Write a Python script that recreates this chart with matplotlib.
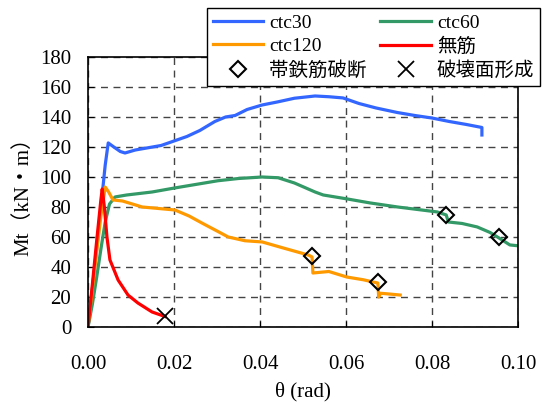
import numpy as np
import matplotlib.pyplot as plt
from matplotlib.lines import Line2D

plt.rcParams['font.family'] = ['Liberation Serif', 'Noto Sans CJK JP']
plt.rcParams['font.size'] = 14

# ctc30
t30 = [0, 0.001, 0.002, 0.003, 0.004, 0.0047, 0.006, 0.0075, 0.0086, 0.011, 0.014, 0.017,
       0.020, 0.023, 0.026, 0.0295, 0.032, 0.0342, 0.037, 0.0405, 0.044, 0.048, 0.0528,
       0.056, 0.0593, 0.063, 0.067, 0.0719, 0.076, 0.080, 0.084, 0.088, 0.0916, 0.0916]
m30 = [0, 25, 52, 80, 108, 122.7, 120, 117, 116, 118, 119.5, 121,
       124, 127, 131, 137, 140, 141, 145, 148, 150, 152.5, 154,
       153.5, 152.7, 149, 146, 143, 141, 139.3, 137, 135, 133, 128]

# ctc60
t60 = [0, 0.001, 0.002, 0.003, 0.004, 0.005, 0.0063, 0.009, 0.0149, 0.0202, 0.025, 0.0302,
       0.035, 0.0405, 0.0442, 0.048, 0.0528, 0.0547, 0.06, 0.0656, 0.072, 0.0812, 0.0833,
       0.0838, 0.087, 0.0905, 0.0935, 0.0956, 0.0981, 0.1005]
m60 = [0, 15, 33, 52, 70, 82, 86.7, 88, 90, 92.7, 95, 97.5,
       99, 100, 99.5, 96, 90, 88, 85.5, 82.7, 80, 76.7, 74.7,
       70, 69, 66.7, 63, 59.3, 54.7, 54]

# ctc120
t120 = [0, 0.001, 0.002, 0.003, 0.004, 0.0048, 0.0058, 0.008, 0.0126, 0.0202, 0.0235, 0.0265,
        0.03, 0.0326, 0.0365, 0.0405, 0.045, 0.0512, 0.0521, 0.0523, 0.056, 0.0602, 0.064,
        0.0674, 0.0676, 0.068, 0.070, 0.0726]
m120 = [0, 25, 50, 74, 93.3, 90, 84.7, 84, 80, 78, 74, 69.3,
        64, 60, 57.5, 56.7, 53, 48, 46.7, 36, 37, 33.3, 31.5,
        29.3, 20, 22.5, 22, 21.3]

# 無筋
t0 = [0, 0.001, 0.002, 0.003, 0.0033, 0.0038, 0.0044, 0.0051, 0.007, 0.0093, 0.0116, 0.0149, 0.0179]
m0 = [0, 28, 57, 85, 92, 80, 60, 44.7, 31.3, 21.3, 16, 10, 7]

# markers
rupture_t = [0.0521, 0.0674, 0.0833, 0.0956]
rupture_m = [47, 29.7, 74.7, 60]
crack_t = [0.0179]
crack_m = [7]

fig = plt.figure(figsize=(5.45, 4.03), dpi=100)
ax = fig.add_axes([0.1615, 0.1886, 0.789, 0.67])

lw = 2.3
l30, = ax.plot(t30, m30, color='#3366FF', lw=lw, label='ctc30')
l60, = ax.plot(t60, m60, color='#339966', lw=lw, label='ctc60')
l120, = ax.plot(t120, m120, color='#FF9900', lw=lw, label='ctc120')
l0, = ax.plot(t0, m0, color='#FF0000', lw=lw, label='無筋')
d, = ax.plot(rupture_t, rupture_m, 'D', ms=8, mfc='none', mec='black', mew=1.5, label='帯鉄筋破断')
x, = ax.plot(crack_t, crack_m, 'x', ms=11, color='black', mew=1.3, label='破壊面形成')

ax.set_xlim(0, 0.10)
ax.set_ylim(0, 180)
ax.set_xticks(np.arange(0, 0.101, 0.02))
ax.set_yticks(np.arange(0, 181, 20))
ax.xaxis.set_major_formatter(plt.FormatStrFormatter('%.2f'))
ax.tick_params(direction='in', length=4)
ax.tick_params(axis='x', pad=20, labelsize=15)
ax.tick_params(axis='y', pad=12, labelsize=15)
ax.grid(True, color='#444444', ls=(0, (5, 4)), lw=1)
for s in ax.spines.values():
    s.set_linewidth(1.2)

ax.set_xlabel('θ (rad)', fontsize=15, labelpad=6)
ax.set_ylabel('Mt（kN・m）', fontsize=15, labelpad=5)

leg = fig.legend([l30, l120, d, l60, l0, x],
                 ['ctc30', 'ctc120', '帯鉄筋破断', 'ctc60', '無筋', '破壊面形成'],
                 ncol=2, loc='upper left', mode='expand',
                 bbox_to_anchor=(0.38, 0.789, 0.611, 0.191),
                 fancybox=False, edgecolor='black', framealpha=1,
                 handlelength=2.6, handletextpad=0.3, labelspacing=0.3,
                 borderpad=0.3, borderaxespad=0)
leg.get_frame().set_linewidth(1.0)

fig.savefig('out.png', dpi=100)
